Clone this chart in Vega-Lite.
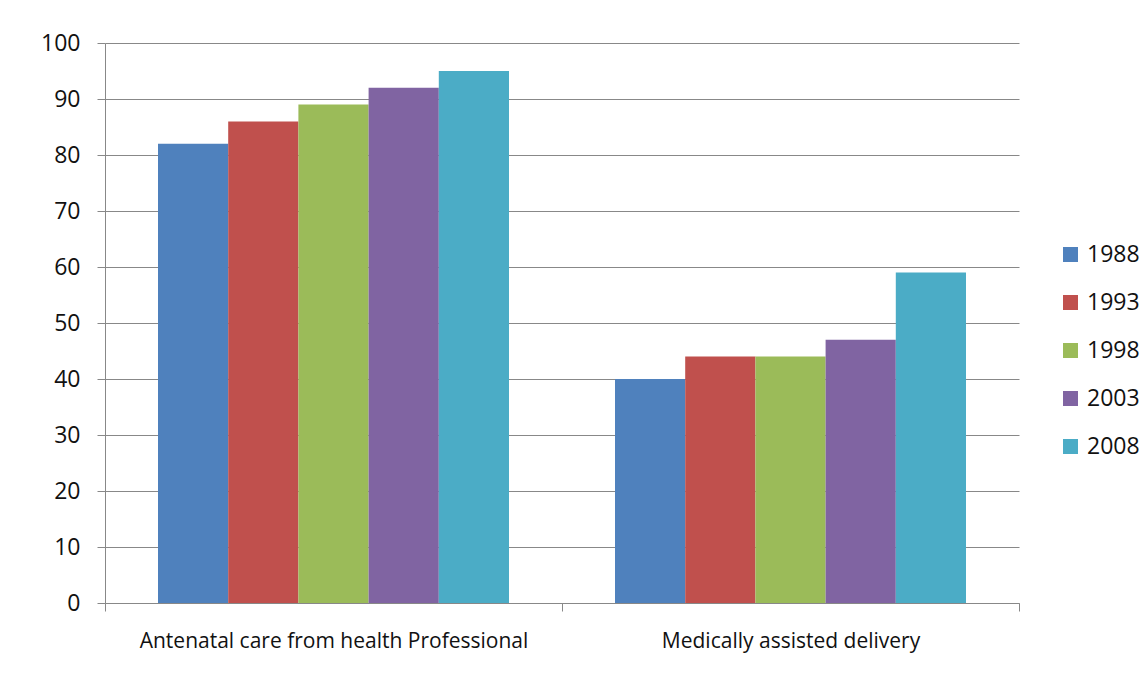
{
  "$schema": "https://vega.github.io/schema/vega-lite/v6.json",
  "width": 914,
  "height": 560,
  "autosize": "none",
  "padding": {"left": 105, "top": 43, "right": 128, "bottom": 76},
  "background": "white",
  "data": {
    "values": [
      {"category": "Antenatal care from health Professional", "year": "1988", "value": 82},
      {"category": "Antenatal care from health Professional", "year": "1993", "value": 86},
      {"category": "Antenatal care from health Professional", "year": "1998", "value": 89},
      {"category": "Antenatal care from health Professional", "year": "2003", "value": 92},
      {"category": "Antenatal care from health Professional", "year": "2008", "value": 95},
      {"category": "Medically assisted delivery", "year": "1988", "value": 40},
      {"category": "Medically assisted delivery", "year": "1993", "value": 44},
      {"category": "Medically assisted delivery", "year": "1998", "value": 44},
      {"category": "Medically assisted delivery", "year": "2003", "value": 47},
      {"category": "Medically assisted delivery", "year": "2008", "value": 59}
    ]
  },
  "config": {
    "view": {"stroke": null},
    "font": "Open Sans",
    "axis": {
      "labelFont": "Open Sans",
      "labelColor": "#111111",
      "domainColor": "#888888",
      "tickColor": "#888888",
      "gridColor": "#888888",
      "gridOpacity": 1,
      "domainWidth": 1,
      "tickWidth": 1,
      "gridWidth": 1
    }
  },
  "mark": {"type": "bar"},
  "encoding": {
    "x": {
      "field": "category",
      "type": "nominal",
      "sort": null,
      "title": null,
      "scale": {"paddingInner": 0, "paddingOuter": 0},
      "axis": {
        "labelAngle": 0,
        "labelFontSize": 21,
        "labelPadding": 19,
        "labelLimit": 0,
        "tickSize": 8,
        "tickBand": "extent",
        "grid": false
      }
    },
    "xOffset": {
      "field": "year",
      "type": "nominal",
      "scale": {"paddingInner": 0, "paddingOuter": 0.755}
    },
    "y": {
      "field": "value",
      "type": "quantitative",
      "title": null,
      "scale": {"domain": [0, 100], "nice": false},
      "axis": {
        "values": [0, 10, 20, 30, 40, 50, 60, 70, 80, 90, 100],
        "labelFontSize": 23,
        "labelPadding": 17,
        "tickSize": 8,
        "grid": true
      }
    },
    "color": {
      "field": "year",
      "type": "nominal",
      "title": null,
      "scale": {"range": ["#4F81BD", "#C0504D", "#9BBB59", "#8064A2", "#4BACC6"]},
      "legend": {
        "orient": "none",
        "legendX": 954,
        "legendY": 200,
        "symbolType": "square",
        "symbolSize": 225,
        "symbolStrokeWidth": 0,
        "labelFontSize": 23,
        "labelColor": "#111111",
        "labelFont": "Open Sans",
        "rowPadding": 24,
        "labelOffset": 5
      }
    }
  }
}
